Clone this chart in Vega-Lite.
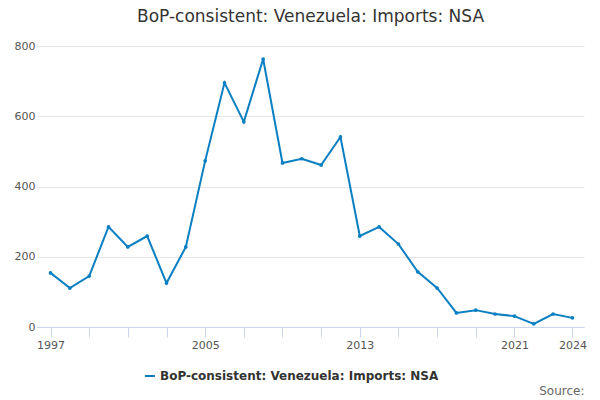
{
  "$schema": "https://vega.github.io/schema/vega-lite/v6.json",
  "width": 600,
  "height": 400,
  "autosize": {"type": "fit", "contains": "padding"},
  "padding": {"left": 14, "right": 14, "top": 8, "bottom": 4},
  "title": {"text": "BoP-consistent: Venezuela: Imports: NSA", "font": "DejaVu Sans", "fontSize": 17, "fontWeight": "normal", "color": "#333333", "offset": 14},
  "config": {"view": {"stroke": null}, "font": "DejaVu Sans"},
  "data": {"values": [
    {"year": 1997, "value": 154}, {"year": 1998, "value": 111}, {"year": 1999, "value": 145},
    {"year": 2000, "value": 285}, {"year": 2001, "value": 228}, {"year": 2002, "value": 259},
    {"year": 2003, "value": 125}, {"year": 2004, "value": 228}, {"year": 2005, "value": 473},
    {"year": 2006, "value": 695}, {"year": 2007, "value": 584}, {"year": 2008, "value": 763},
    {"year": 2009, "value": 467}, {"year": 2010, "value": 479}, {"year": 2011, "value": 461},
    {"year": 2012, "value": 541}, {"year": 2013, "value": 259}, {"year": 2014, "value": 285},
    {"year": 2015, "value": 236}, {"year": 2016, "value": 157}, {"year": 2017, "value": 111},
    {"year": 2018, "value": 40}, {"year": 2019, "value": 48}, {"year": 2020, "value": 37},
    {"year": 2021, "value": 31}, {"year": 2022, "value": 9}, {"year": 2023, "value": 37},
    {"year": 2024, "value": 26}
  ]},
  "mark": {"type": "line", "color": "#0a7fc2", "strokeWidth": 2, "point": {"size": 14, "color": "#0a7fc2"}},
  "encoding": {
    "x": {"field": "year", "type": "quantitative", "title": "Source:",
      "scale": {"domain": [1996.3, 2024.6], "nice": false, "zero": false},
      "axis": {"values": [1997, 1999, 2001, 2003, 2005, 2007, 2009, 2011, 2013, 2015, 2017, 2019, 2021, 2024],
        "labelExpr": "indexof([1997, 2005, 2013, 2021, 2024], datum.value) >= 0 ? datum.value : ''",
        "grid": false, "domainColor": "#ccd6eb", "tickColor": "#ccd6eb", "tickSize": 10, "labelColor": "#555555", "labelFontSize": 11, "labelFlush": false,
        "titleAnchor": "end", "titleAlign": "right", "titleFontWeight": "normal", "titleFontSize": 12, "titleColor": "#666666", "titlePadding": 35}},
    "y": {"field": "value", "type": "quantitative", "title": null,
      "scale": {"domain": [0, 800]},
      "axis": {"values": [0, 200, 400, 600, 800], "domain": false, "ticks": false, "gridColor": "#e6e6e6", "labelColor": "#555555", "labelFontSize": 11}},
    "color": {"datum": "BoP-consistent: Venezuela: Imports: NSA", "type": "nominal",
      "scale": {"range": ["#0a7fc2"]},
      "legend": {"title": null, "orient": "none", "legendX": 107, "legendY": 324, "labelLimit": 0, "labelFontSize": 12, "labelFontWeight": "bold", "labelColor": "#333333", "symbolType": "stroke", "symbolStrokeWidth": 2}}
  }
}
